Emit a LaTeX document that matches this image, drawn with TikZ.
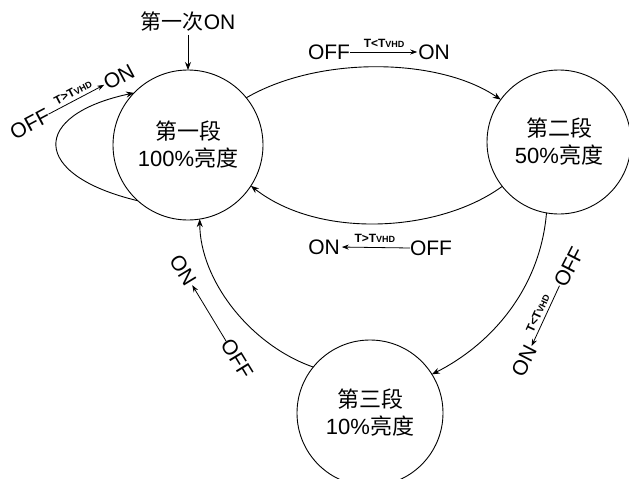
\documentclass[tikz,border=0pt]{standalone}
\usepackage{fontspec}
\setmainfont{Liberation Sans}
\newfontfamily\cjk{Noto Sans CJK SC}
\usetikzlibrary{arrows.meta}
\newcommand{\vhdsub}{{\fontsize{9}{9}\selectfont VHD}}
\begin{document}
\begin{tikzpicture}[x=1pt,y=-1pt,
  every node/.style={inner sep=0pt,outer sep=0pt},
  stbox/.style={circle,draw,line width=0.9pt,minimum size=#1,align=center,
    font=\fontsize{22}{27}\selectfont},
  conn/.style={line width=0.9pt,-{Stealth[length=8pt,width=6pt]}},
  lbl/.style={font=\fontsize{21}{21}\selectfont},
  cond/.style={font=\fontsize{12}{12}\selectfont\bfseries},
  sarrow/.style={line width=0.8pt,-{Stealth[length=7pt,width=5pt]}},
  rarrow/.style={line width=0.8pt,{Stealth[length=7pt,width=5pt]}-}
]
\path[use as bounding box] (0,0) rectangle (629,479);

% states
\node[stbox=150pt] (c1) at (188,145) {{\cjk 第一段}\\100\%{\cjk 亮度}};
\node[stbox=144pt] (c2) at (559,142) {{\cjk 第二段}\\50\%{\cjk 亮度}};
\node[stbox=146pt] (c3) at (370,413) {{\cjk 第三段}\\10\%{\cjk 亮度}};

% initial
\node[lbl] (t0) at (188,22) {{\cjk 第一次}ON};
\draw[conn,shorten <=3pt] (t0.south) -- (c1.north);

% c1 -> c2
\draw[conn] (c1.39) .. controls (320,55) and (440,58) .. (c2.144.6);
\node[lbl] (offA) at (329,52) {OFF};
\node[lbl] (onA) at (434,52) {ON};
\draw[sarrow,shorten >=1pt] (offA.east) -- node[midway,above=5pt,cond] {T<T\vhdsub} (onA.west);

% c2 -> c1
\draw[conn] (c2.218.8) .. controls (440,232) and (320,240) .. (c1.-33.3);
\node[lbl] (onB) at (324,247) {ON};
\node[lbl] (offB) at (431,248) {OFF};
\draw[rarrow,shorten <=2pt] (onB.east) -- node[midway,above=5pt,cond] {T>T\vhdsub} (offB.west);

% self loop c1
\draw[conn] (c1.-132.7) .. controls (30,175) and (30,115) .. (c1.136);
\node[lbl,rotate=28] (offS) at (30,124) {OFF};
\node[lbl,rotate=28] (onS) at (119,77) {ON};
\draw[sarrow,shorten >=1pt] (offS.east) -- node[midway,above=4pt,sloped,cond] {T>T\vhdsub} (onS.west);

% c2 -> c3
\draw[conn] (c2.-100.4) .. controls (540,290) and (490,345) .. (c3.32.4);
\node[lbl,rotate=63] (onC) at (524,361) {ON};
\node[lbl,rotate=63] (offC) at (569,267) {OFF};
\draw[rarrow,shorten <=1pt] (onC.east) -- node[midway,above=4pt,sloped,cond] {T<T\vhdsub} (offC.west);

% c3 -> c1
\draw[conn] (c3.141.6) .. controls (250,345) and (200,280) .. (c1.-81.3);
\node[lbl,rotate=-58.6] (onD) at (183,270) {ON};
\node[lbl,rotate=-58.6] (offD) at (237,359) {OFF};
\draw[sarrow,shorten >=2pt] (offD.west) -- (onD.east);
\end{tikzpicture}
\end{document}
